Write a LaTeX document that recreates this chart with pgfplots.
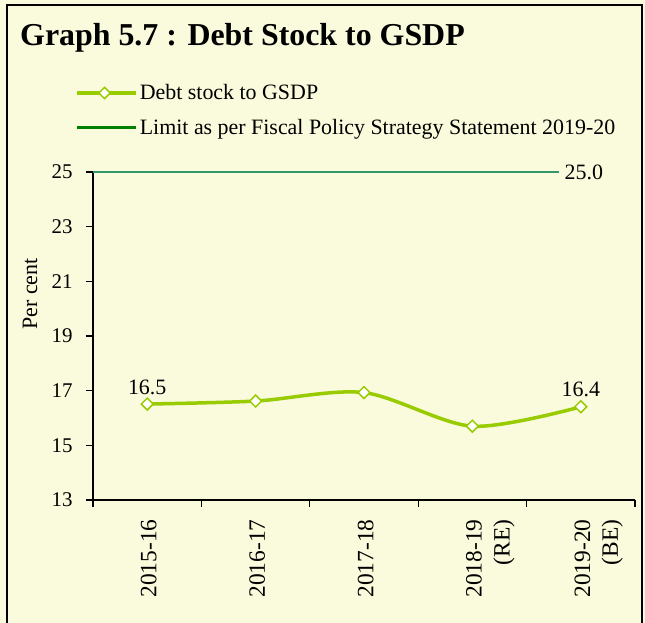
\documentclass[border=0pt]{standalone}
\usepackage{pgfplots}
\pgfplotsset{compat=1.18}
\usepackage{fontspec}
\setmainfont{Liberation Serif}
\definecolor{bg}{RGB}{250,250,220}
\definecolor{limeg}{RGB}{153,204,0}
\definecolor{limitc}{RGB}{51,153,102}
\definecolor{legg}{RGB}{0,128,0}
\newcommand{\twol}[2]{\begin{tabular}[t]{@{}r@{}}#1\\#2\end{tabular}}
\begin{document}
\begin{tikzpicture}
\useasboundingbox (0bp,0bp) rectangle (645bp,-623bp);
\fill[bg] (0bp,0bp) rectangle (645bp,-623bp);
\draw[line width=1.3bp] (7bp,-623bp) -- (7bp,-5bp) -- (642bp,-5bp) -- (642bp,-623bp);
\node[anchor=base west, inner sep=0pt, font=\fontsize{32}{38}\selectfont\bfseries] at (20bp,-45bp) {Graph 5.7 : Debt Stock to GSDP};
\begin{axis}[
  at={(93bp,-500bp)}, anchor=south west, scale only axis,
  width=542bp, height=328bp,
  xmin=-0.5, xmax=4.5, ymin=13, ymax=25,
  clip=false,
  axis x line*=bottom, axis y line*=left,
  axis line style={-, line width=1.3bp, black},
  tick style={black, line width=1.3bp},
  tick align=outside, major tick length=7bp,
  xtick={-0.5,0.5,1.5,2.5,3.5,4.5}, xticklabels={},
  extra x ticks={0,1,2,3,4},
  extra x tick labels={2015-16,2016-17,2017-18,\twol{2018-19}{(RE)},\twol{2019-20}{(BE)}},
  extra x tick style={major tick length=0pt, xticklabel shift=16bp,
    tick label style={rotate=90, anchor=mid east, yshift=-7bp, font=\fontsize{23.5}{28}\selectfont}},
  ytick={13,15,17,19,21,23,25},
  /pgf/number format/assume math mode=true,
  yticklabel style={font=\fontsize{21}{24}\selectfont, xshift=-10bp},
  ylabel={Per cent},
  ylabel style={font=\fontsize{22}{24}\selectfont, at={(axis description cs:-0.116,0.628)}, anchor=center},
  legend style={at={(axis description cs:-0.033,1.273)}, anchor=north west, draw=none, fill=none,
    font=\fontsize{22}{25}\selectfont, row sep=14bp, inner sep=0pt},
  legend cell align=left,
  legend image code/.code={\path (0bp,0bp) -- (59bp,0bp);\draw[mark repeat=2,mark phase=2,#1] plot coordinates {(0bp,0bp) (27.5bp,0bp) (55bp,0bp)};},
]
\addlegendimage{limeg, line width=3.5bp, mark=square*, mark size=4bp, mark options={fill=white, draw=limeg, line width=1.5bp, rotate=45}}
\addlegendentry{Debt stock to GSDP}
\addlegendimage{legg, line width=3bp}
\addlegendentry{Limit as per Fiscal Policy Strategy Statement 2019-20}

\addplot[limitc, line width=2.6bp, forget plot] coordinates {(-0.5,25) (3.8,25)};
\addplot[limeg, line width=3.5bp, smooth, mark=square*, mark size=4.2bp,
  mark options={fill=white, draw=limeg, line width=1.5bp, rotate=45}, forget plot]
  coordinates {(0,16.51) (1,16.62) (2,16.93) (3,15.7) (4,16.41)};
\addplot[draw=none, forget plot, nodes near coords, point meta=explicit symbolic,
  nodes near coords style={font=\fontsize{22}{24}\selectfont, anchor=south, yshift=6bp}]
  coordinates {(0,16.51)[16.5] (4,16.41)[16.4]};
\addplot[draw=none, forget plot, nodes near coords, point meta=explicit symbolic,
  nodes near coords style={font=\fontsize{22}{24}\selectfont, anchor=west, xshift=2bp}]
  coordinates {(3.8,25)[25.0]};
\end{axis}
\end{tikzpicture}
\end{document}
